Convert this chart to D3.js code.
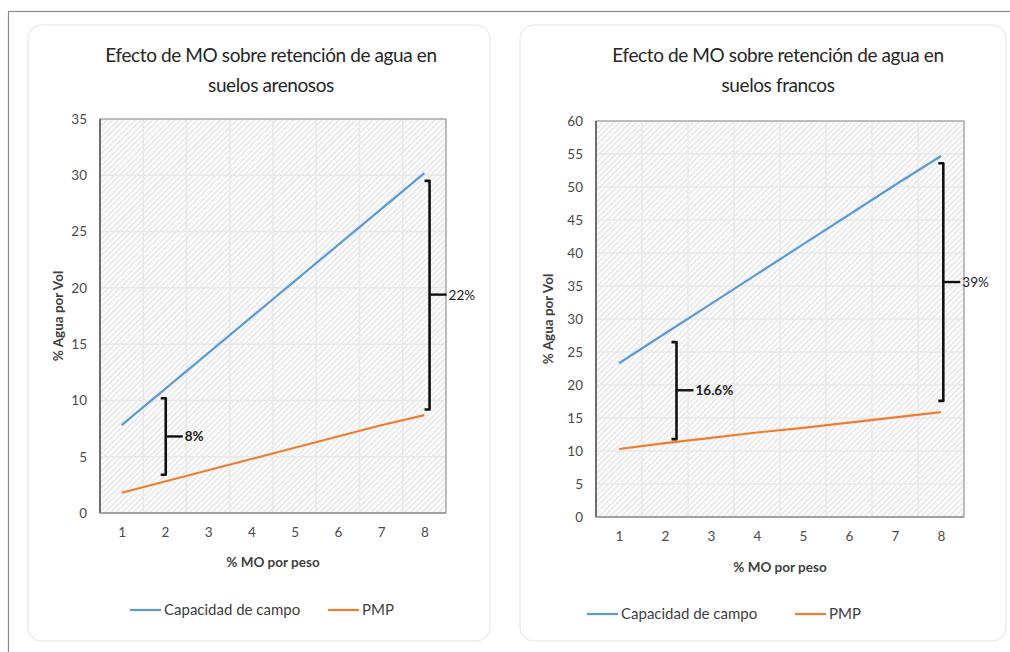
<!DOCTYPE html>
<html><head><meta charset="utf-8">
<script src="https://cdn.jsdelivr.net/npm/d3@7"></script>
<style>body{margin:0;background:#fff}svg{display:block}</style>
</head><body>
<svg id="c" width="1010" height="652"></svg>
<script>
const categories = [1,2,3,4,5,6,7,8];
const arenososCC  = [7.8, 11.0, 14.2, 17.4, 20.6, 23.8, 27.0, 30.2];
const arenososPMP = [1.8, 2.8, 3.8, 4.8, 5.8, 6.8, 7.8, 8.7];
const francosCC   = [23.3, 27.8, 32.3, 36.8, 41.3, 45.8, 50.3, 54.7];
const francosPMP  = [10.3, 11.2, 12.0, 12.8, 13.5, 14.3, 15.1, 15.9];
const arenososTicks = [0,5,10,15,20,25,30,35];
const francosTicks  = [0,5,10,15,20,25,30,35,40,45,50,55,60];
const arenososBrackets = [
  {x:2.02, y0:3.4, y1:10.2, label:"8%", bold:true},
  {x:8.12, y0:9.2, y1:29.5, mid:19.4, label:"22%", bold:false}
];
const francosBrackets = [
  {x:2.25, y0:11.8, y1:26.5, mid:19.2, label:"16.6%", bold:true},
  {x:8.05, y0:17.6, y1:53.6, mid:35.6, label:"39%", bold:false}
];
const titles = [["Efecto de MO sobre retención de agua en","suelos arenosos"],["Efecto de MO sobre retención de agua en","suelos francos"]];
const seriesNames = ["Capacidad de campo","PMP"];
const colors = ["#5b9bd5","#ed7d31"];

const svg = d3.select("#c");
const defs = svg.append("defs");
const pat = defs.append("pattern").attr("id","hatch").attr("patternUnits","userSpaceOnUse")
  .attr("width",4).attr("height",4).attr("patternTransform","rotate(45)");
pat.append("rect").attr("width",4).attr("height",4).attr("fill","#fafafa");
pat.append("line").attr("x1",0).attr("y1",0).attr("x2",0).attr("y2",4).attr("stroke","#dcdcdc").attr("stroke-width",1.6);

// outer frame
svg.append("rect").attr("x",8.5).attr("y",11.5).attr("width",1010).attr("height",660)
  .attr("fill","none").attr("stroke","#8a8a8a").attr("stroke-width",1.2);

const FONT = "Lato, 'Open Sans', sans-serif";
const TFONT = "Lato, 'Open Sans', sans-serif";

function drawChart(cfg){
  const g = svg.append("g");
  g.append("rect").attr("x",cfg.panel[0]).attr("y",cfg.panel[1]).attr("width",cfg.panel[2]).attr("height",cfg.panel[3])
    .attr("rx",14).attr("fill","#fff").attr("stroke","#e6e6e6").attr("stroke-width",1.2);
  const x = d3.scalePoint().domain(categories).range([cfg.plot.x0, cfg.plot.x1]).padding(0.5);
  const y = d3.scaleLinear().domain([0, cfg.ymax]).range([cfg.plot.y1, cfg.plot.y0]);
  const pw = cfg.plot.x1-cfg.plot.x0, ph = cfg.plot.y1-cfg.plot.y0;
  g.append("rect").attr("x",cfg.plot.x0).attr("y",cfg.plot.y0).attr("width",pw).attr("height",ph).attr("fill","url(#hatch)");
  // grid
  const step = x.step();
  const gx = d3.range(0,9).map(i=>cfg.plot.x0+i*step);
  g.selectAll(".vg").data(gx).join("line").attr("x1",d=>d).attr("x2",d=>d).attr("y1",cfg.plot.y0).attr("y2",cfg.plot.y1)
    .attr("stroke","#e8e8e8").attr("stroke-width",1.5);
  g.selectAll(".hg").data(cfg.ticks).join("line").attr("x1",cfg.plot.x0).attr("x2",cfg.plot.x1).attr("y1",d=>y(d)).attr("y2",d=>y(d))
    .attr("stroke","#e8e8e8").attr("stroke-width",1.5);
  // border
  g.append("rect").attr("x",cfg.plot.x0).attr("y",cfg.plot.y0).attr("width",pw).attr("height",ph)
    .attr("fill","none").attr("stroke","#8c8c8c").attr("stroke-width",1);
  g.append("line").attr("x1",cfg.plot.x0).attr("x2",cfg.plot.x0).attr("y1",cfg.plot.y0).attr("y2",cfg.plot.y1).attr("stroke","#6e6e6e").attr("stroke-width",2);
  g.append("line").attr("x1",cfg.plot.x0).attr("x2",cfg.plot.x1).attr("y1",cfg.plot.y1).attr("y2",cfg.plot.y1).attr("stroke","#9a9a9a").attr("stroke-width",1.5);
  // axes
  const ya = g.append("g").attr("transform",`translate(${cfg.plot.x0},0)`).call(d3.axisLeft(y).tickValues(cfg.ticks).tickSize(0).tickPadding(13));
  ya.select(".domain").remove();
  ya.selectAll("text").attr("font-family",FONT).attr("font-size",13.5).attr("fill","#4a4a4a");
  const xa = g.append("g").attr("transform",`translate(0,${cfg.plot.y1})`).call(d3.axisBottom(x).tickSize(0).tickPadding(14));
  xa.select(".domain").remove();
  xa.selectAll("text").attr("font-family",FONT).attr("font-size",13.5).attr("fill","#4a4a4a");
  // lines
  const line = d3.line().x((d,i)=>x(categories[i])).y(d=>y(d));
  [cfg.cc, cfg.pmp].forEach((s,i)=>{
    g.append("path").datum(s).attr("d",line).attr("fill","none").attr("stroke",colors[i]).attr("stroke-width",2.2);
  });
  // brackets
  const bx = d3.scaleLinear().domain([1,8]).range([x(1),x(8)]);
  cfg.brackets.forEach(b=>{
    const xx = bx(b.x), yt=y(b.y1), yb=y(b.y0), ym=y(b.mid!==undefined?b.mid:(b.y0+b.y1)/2);
    g.append("path").attr("d",`M${xx-5},${yt} L${xx},${yt} L${xx},${yb} L${xx-5},${yb}`)
      .attr("fill","none").attr("stroke","#111").attr("stroke-width",2.6).attr("stroke-linejoin","round");
    g.append("line").attr("x1",xx).attr("x2",xx+17).attr("y1",ym).attr("y2",ym).attr("stroke","#111").attr("stroke-width",2.4);
    g.append("text").attr("x",xx+19).attr("y",ym+5).attr("font-family",FONT).attr("font-size",13.5)
      .attr("font-weight",b.bold?"bold":"normal").attr("fill","#222").text(b.label);
  });
  // titles
  cfg.title.forEach((t,i)=>{
    g.append("text").attr("x",cfg.tx).attr("y",62+i*30).attr("text-anchor","middle").attr("font-family",TFONT)
      .attr("font-size",19).attr("fill","#262626").attr("letter-spacing","-0.4").text(t);
  });
  // axis titles
  g.append("text").attr("transform",`translate(${cfg.ylx},${(cfg.plot.y0+cfg.plot.y1)/2}) rotate(-90)`).attr("text-anchor","middle")
    .attr("font-family",FONT).attr("font-size",13.5).attr("font-weight","bold").attr("fill","#404040").text("% Agua por Vol");
  g.append("text").attr("x",(cfg.plot.x0+cfg.plot.x1)/2).attr("y",cfg.xly).attr("text-anchor","middle")
    .attr("font-family",FONT).attr("font-size",13.5).attr("font-weight","bold").attr("fill","#404040").text("% MO por peso");
  // legend
  cfg.legend.forEach((lx,i)=>{
    g.append("line").attr("x1",lx).attr("x2",lx+31).attr("y1",cfg.ly).attr("y2",cfg.ly).attr("stroke",colors[i]).attr("stroke-width",2.2);
    g.append("text").attr("x",lx+34).attr("y",cfg.ly+5).attr("font-family",FONT).attr("font-size",15).attr("fill","#404040").text(seriesNames[i]);
  });
}

drawChart({panel:[28,25,462,616], plot:{x0:100,x1:446,y0:119,y1:513}, ymax:35, ticks:arenososTicks,
  cc:arenososCC, pmp:arenososPMP, brackets:arenososBrackets, title:titles[0], tx:271, ylx:63, xly:567, legend:[130,328], ly:610});
drawChart({panel:[520,25,486,616], plot:{x0:596,x1:964,y0:121,y1:517}, ymax:60, ticks:francosTicks,
  cc:francosCC, pmp:francosPMP, brackets:francosBrackets, title:titles[1], tx:778, ylx:553, xly:572, legend:[587,795], ly:614});
</script>
</body></html>
